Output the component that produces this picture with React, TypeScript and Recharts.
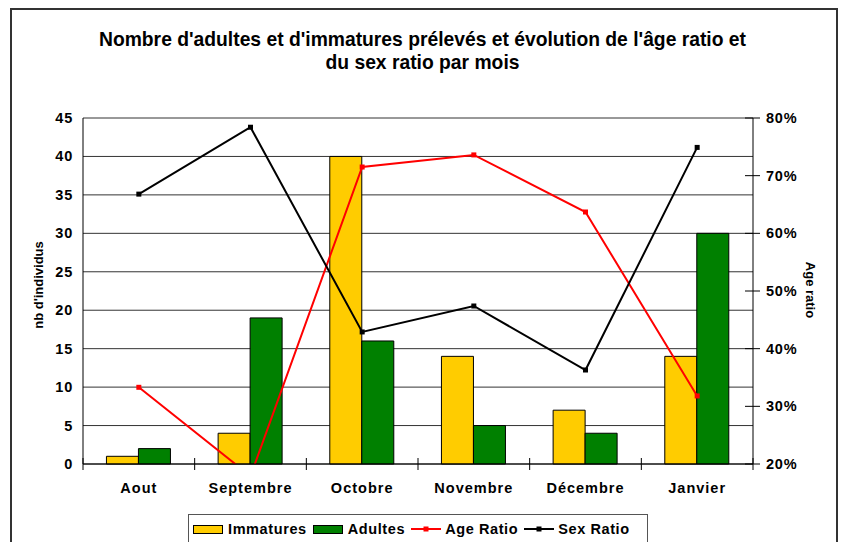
import React from 'react';
import { ComposedChart, Bar, Line, XAxis, YAxis, CartesianGrid } from 'recharts';

const months = ['Aout', 'Septembre', 'Octobre', 'Novembre', 'Décembre', 'Janvier'];
const immatures = [1, 4, 40, 14, 7, 14];
const adultes = [2, 19, 16, 5, 4, 30];
const ageRatio = [0.333, 0.179, 0.715, 0.736, 0.637, 0.318];
const sexRatio = [0.668, 0.784, 0.429, 0.474, 0.363, 0.749];
const leftTicks = [0, 5, 10, 15, 20, 25, 30, 35, 40, 45];
const rightTicks = [0.2, 0.3, 0.4, 0.5, 0.6, 0.7, 0.8];

const titleLines = [
  "Nombre d'adultes et d'immatures prélevés et évolution de l'âge ratio et",
  'du sex ratio par mois',
];
const leftAxisTitle = "nb d'individus";
const rightAxisTitle = 'Age ratio';

const COLORS = { imm: '#FFCC00', adu: '#008000', age: '#FF0000', sex: '#000000' };
const FONT = '"Liberation Sans", Arial, sans-serif';

const data = months.map((m, i) => ({
  month: m,
  immatures: immatures[i],
  adultes: adultes[i],
  age: ageRatio[i],
  sex: sexRatio[i],
}));

const makeSquare = (color: string) => (props: any) => {
  const { cx, cy, index } = props;
  if (cx == null || cy == null) return <g key={`d${index}`} />;
  return <rect key={`d${index}`} x={cx - 2.5} y={cy - 2.5} width={5} height={5} fill={color} />;
};

const XTick = (props: any) => {
  const { x, y, payload, index, visibleTicksCount } = props;
  const off = payload && payload.offset ? payload.offset : 55.8;
  const last = index === (visibleTicksCount ? visibleTicksCount - 1 : 5);
  return (
    <g>
      <line x1={x - off} x2={x - off} y1={y - 6} y2={y + 6} stroke="#000" strokeWidth={1} />
      {last && <line x1={x + off} x2={x + off} y1={y - 6} y2={y + 6} stroke="#000" strokeWidth={1} />}
      <text x={x} y={y + 29} textAnchor="middle" fontFamily={FONT} fontWeight="bold" fontSize={14.5} letterSpacing={1} fill="#000">
        {payload.value}
      </text>
    </g>
  );
};

const LeftTick = (props: any) => {
  const { x, y, payload } = props;
  return (
    <text x={x - 10} y={y + 5} textAnchor="end" fontFamily={FONT} fontWeight="bold" fontSize={14.5} letterSpacing={0.8} fill="#000">
      {payload.value}
    </text>
  );
};

const RightTick = (props: any) => {
  const { x, y, payload } = props;
  return (
    <g>
      <line x1={x - 8} x2={x + 7} y1={y} y2={y} stroke="#000" strokeWidth={1} />
      <text x={x + 13} y={y + 5} textAnchor="start" fontFamily={FONT} fontWeight="bold" fontSize={14.5} letterSpacing={0.8} fill="#000">
        {`${Math.round(payload.value * 100)}%`}
      </text>
    </g>
  );
};

const legendItems = [
  { label: 'Immatures', kind: 'bar', color: COLORS.imm },
  { label: 'Adultes', kind: 'bar', color: COLORS.adu },
  { label: 'Age Ratio', kind: 'line', color: COLORS.age },
  { label: 'Sex Ratio', kind: 'line', color: COLORS.sex },
];

export default function App() {
  return (
    <div style={{ position: 'absolute', left: 0, top: 0, width: 841, height: 542, overflow: 'hidden', background: '#fff', fontFamily: FONT }}>
      <div style={{ position: 'absolute', left: 10, top: 8, width: 824, height: 560, borderTop: '2px solid #333', borderLeft: '2px solid #333', borderRight: '2px solid #333' }} />
      <div style={{ position: 'absolute', left: 0, top: 28, width: 841, textAlign: 'center', fontWeight: 'bold', fontSize: 19.3, lineHeight: '23px', color: '#000' }}>
        <div style={{ marginLeft: 4 }}>{titleLines[0]}</div>
        <div style={{ marginLeft: 4 }}>{titleLines[1]}</div>
      </div>
      <div style={{ position: 'absolute', left: 38, top: 285, transform: 'translate(-50%, -50%) rotate(-90deg)', whiteSpace: 'nowrap', fontWeight: 'bold', fontSize: 13, color: '#000' }}>
        {leftAxisTitle}
      </div>
      <div style={{ position: 'absolute', left: 810, top: 290, transform: 'translate(-50%, -50%) rotate(90deg)', whiteSpace: 'nowrap', fontWeight: 'bold', fontSize: 13, color: '#000' }}>
        {rightAxisTitle}
      </div>
      <div style={{ position: 'absolute', left: 0, top: 0 }}>
        <ComposedChart
          width={841}
          height={542}
          data={data}
          margin={{ top: 118, right: 28, bottom: 48, left: 23 }}
          barCategoryGap="21%"
          barGap={0}
        >
          <CartesianGrid yAxisId="left" vertical={false} stroke="#333" strokeWidth={1} ticks={leftTicks as any} />
          <XAxis
            dataKey="month"
            axisLine={{ stroke: '#000', strokeWidth: 1 }}
            tickLine={false}
            tickSize={0}
            tickMargin={0}
            height={30}
            interval={0}
            tick={<XTick />}
          />
          <YAxis
            yAxisId="left"
            orientation="left"
            domain={[0, 45]}
            ticks={leftTicks}
            width={60}
            axisLine={{ stroke: '#000', strokeWidth: 1 }}
            tickLine={false}
            tickSize={0}
            tickMargin={0}
            interval={0}
            tick={<LeftTick />}
          />
          <YAxis
            yAxisId="right"
            orientation="right"
            domain={[0.2, 0.8]}
            ticks={rightTicks}
            allowDataOverflow
            width={60}
            axisLine={{ stroke: '#000', strokeWidth: 1 }}
            tickLine={false}
            tickSize={0}
            tickMargin={0}
            interval={0}
            tick={<RightTick />}
          />
          <Bar yAxisId="left" dataKey="immatures" fill={COLORS.imm} stroke="#000" strokeWidth={1} isAnimationActive={false} />
          <Bar yAxisId="left" dataKey="adultes" fill={COLORS.adu} stroke="#000" strokeWidth={1} isAnimationActive={false} />
          <Line yAxisId="right" type="linear" dataKey="age" stroke={COLORS.age} strokeWidth={2} dot={makeSquare(COLORS.age)} activeDot={false} isAnimationActive={false} />
          <Line yAxisId="right" type="linear" dataKey="sex" stroke={COLORS.sex} strokeWidth={2} dot={makeSquare(COLORS.sex)} activeDot={false} isAnimationActive={false} />
        </ComposedChart>
      </div>
      <div style={{ position: 'absolute', left: 188, top: 514, width: 460, height: 40, border: '1px solid #555', boxSizing: 'border-box' }}>
        <div style={{ display: 'flex', alignItems: 'center', height: 28, paddingLeft: 4, fontWeight: 'bold', fontSize: 14.5, letterSpacing: 0.6, color: '#000', whiteSpace: 'nowrap' }}>
          {legendItems.map((it) => (
            <div key={it.label} style={{ display: 'flex', alignItems: 'center', marginRight: 6, flexShrink: 0 }}>
              {it.kind === 'bar' ? (
                <div style={{ width: 28, height: 7, background: it.color, border: '1px solid #000', marginRight: 5, flexShrink: 0 }} />
              ) : (
                <svg width={30} height={8} style={{ marginRight: 4, flexShrink: 0 }}>
                  <line x1={0} x2={30} y1={4} y2={4} stroke={it.color} strokeWidth={2} />
                  <rect x={12.5} y={1.5} width={5} height={5} fill={it.color} />
                </svg>
              )}
              <span style={{ whiteSpace: 'nowrap' }}>{it.label}</span>
            </div>
          ))}
        </div>
      </div>
    </div>
  );
}
